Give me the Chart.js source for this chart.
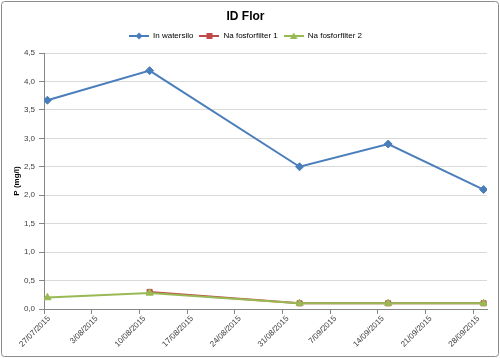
<!DOCTYPE html>
<html><head><meta charset="utf-8">
<script src="https://cdn.jsdelivr.net/npm/chart.js@4/dist/chart.umd.min.js"></script>
<style>html,body{margin:0;padding:0;background:#fff;}#wrap{position:relative;width:500px;height:358px;}</style>
</head><body><div id="wrap"><canvas id="c" width="500" height="358"></canvas></div>
<script>
// ---- data ----
const sampleDates = ['27/07/2015','11/08/2015','02/09/2015','15/09/2015','29/09/2015'];
const seriesNames = ['In watersilo','Na fosforfilter 1','Na fosforfilter 2'];
const inWatersilo = [3.67, 4.19, 2.5, 2.9, 2.1];
const fosforfilter1 = [null, 0.3, 0.1, 0.1, 0.1];
const fosforfilter2 = [0.2, 0.28, 0.1, 0.1, 0.1];
const xTickLabels = ['27/07/2015','3/08/2015','10/08/2015','17/08/2015','24/08/2015','31/08/2015','7/09/2015','14/09/2015','21/09/2015','28/09/2015'];
const axisStartDate = '27/07/2015';
const axisEndDate = '30/09/2015';
const yTickValues = [0,0.5,1,1.5,2,2.5,3,3.5,4,4.5];
const chartTitle = 'ID Flor';
const yAxisTitle = 'P (mg/l)';

// ---- helpers ----
function parseDate(s){const [d,m,y]=s.split('/').map(Number);return Date.UTC(y,m-1,d);}
const DAY=86400000;
const t0=parseDate(axisStartDate);
function dayIdx(s){return (parseDate(s)-t0)/DAY;}
// Excel date axis (between tick marks): each point sits in the middle of its day slot
function pts(vals){return sampleDates.map((d,i)=>({x:dayIdx(d)+0.5,y:vals[i]}));}

const colors=['#4A7EBB','#BE4B48','#98B954'];
const styles=['rectRot','rect','triangle'];
const radii=[4,3.6,4.2];

function legendIcon(i){
  const c=document.createElement('canvas');c.width=20;c.height=10;
  const x=c.getContext('2d');
  x.strokeStyle=colors[i];x.lineWidth=2;x.beginPath();x.moveTo(0,5);x.lineTo(20,5);x.stroke();
  x.fillStyle=colors[i];x.beginPath();
  if(i===0){x.moveTo(10,1.5);x.lineTo(13.5,5);x.lineTo(10,8.5);x.lineTo(6.5,5);}
  else if(i===1){x.rect(7,2,6,6);}
  else{x.moveTo(10,1.5);x.lineTo(13.8,8);x.lineTo(6.2,8);}
  x.closePath();x.fill();
  return c;
}

const seriesVals=[inWatersilo,fosforfilter1,fosforfilter2];
const datasets=seriesNames.map((n,i)=>({
  label:n,data:pts(seriesVals[i]),borderColor:colors[i],backgroundColor:colors[i],
  borderWidth:2,pointStyle:styles[i],pointRadius:radii[i],pointBorderWidth:1,pointBorderColor:colors[i],
  tension:0,spanGaps:false,order:3-i
}));

const borderPlugin={id:'border',beforeDraw(ch){const c=ch.ctx;c.save();c.fillStyle='#fff';c.fillRect(0,0,500,358);c.strokeStyle='#8c8c8c';c.lineWidth=1;c.beginPath();c.roundRect(1.5,1.5,497,355,3);c.stroke();c.restore();}};
// extra gap between legend and plot area
const legendGap={id:'legendGap',beforeLayout(ch){const lg=ch.legend;if(lg&&!lg._gapPatched){const f=lg.fit.bind(lg);lg.fit=function(){f();this.height+=3;};lg._gapPatched=true;}}};

Chart.defaults.font.family="'Liberation Sans', Arial, sans-serif";
new Chart(document.getElementById('c'),{
  type:'line',
  data:{datasets},
  plugins:[borderPlugin,legendGap],
  options:{
    responsive:false,animation:false,
    layout:{padding:{left:4,right:13,top:2,bottom:4}},
    plugins:{
      title:{display:true,text:chartTitle,color:'#000',font:{size:12,weight:'bold'},padding:{top:7,bottom:2.6}},
      legend:{display:true,labels:{usePointStyle:true,pointStyleWidth:20,color:'#000',font:{size:8},padding:6,
        generateLabels(ch){return ch.data.datasets.map((d,i)=>({text:d.label,pointStyle:legendIcon(i),fillStyle:colors[i],strokeStyle:colors[i],lineWidth:0,datasetIndex:i,hidden:false}));}}},
      tooltip:{enabled:false}
    },
    scales:{
      x:{type:'linear',min:0,max:dayIdx(axisEndDate),
        afterBuildTicks(s){s.ticks=xTickLabels.map(l=>({value:dayIdx(l)}));},
        afterFit(s){s.height=45;},
        ticks:{autoSkip:false,minRotation:45,maxRotation:45,color:'#404040',font:{size:8},padding:0,labelOffset:5,
          callback(v,i){return xTickLabels[i];}},
        grid:{drawOnChartArea:false,drawTicks:true,tickLength:5,color:'#868686',tickColor:'#868686'},
        border:{color:'#868686',width:1}
      },
      y:{min:0,max:4.5,
        afterBuildTicks(s){s.ticks=yTickValues.map(v=>({value:v}));},
        afterFit(s){s.width=40;},
        ticks:{color:'#404040',font:{size:8},padding:4,callback(v){return v.toFixed(1).replace('.',',');}},
        grid:{color:'#d9d9d9',lineWidth:1,drawTicks:true,tickLength:5,tickColor:'#868686'},
        border:{color:'#868686',width:1},
        title:{display:true,text:yAxisTitle,color:'#000',font:{size:8,weight:'bold'},padding:{top:8,bottom:0}}
      }
    }
  }
});
</script></body></html>
